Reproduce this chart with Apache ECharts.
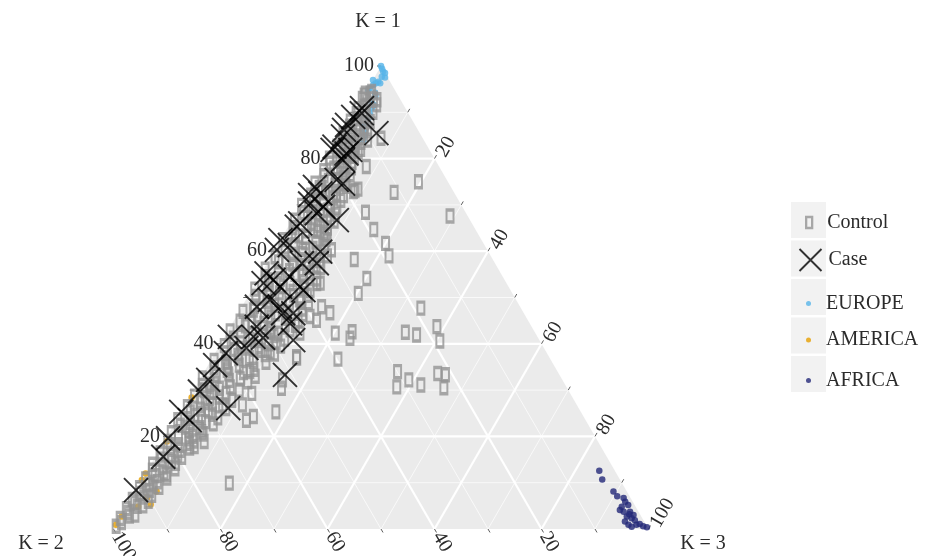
<!DOCTYPE html>
<html><head><meta charset="utf-8">
<script src="https://cdn.jsdelivr.net/npm/echarts@6/dist/echarts.min.js"></script>
<style>html,body{margin:0;padding:0;background:#fff}#c{width:926px;height:556px}</style>
</head><body><div id="c"></div>
<script>
// ---- data (ternary compositions in %, [K1, K2, K3]) ----
const axisTitles = ['K = 1', 'K = 2', 'K = 3'];
const gridTicks = [10, 20, 30, 40, 50, 60, 70, 80, 90];
const tickMarks = [10, 20, 30, 40, 50, 60, 70, 80, 90, 100];
const labelTicks = [20, 40, 60, 80, 100];
const legendNames = ['Control', 'Case', 'EUROPE', 'AMERICA', 'AFRICA'];

const controlPoints = [
 [0.6,99.2,0.2],[1.4,97.8,0.8],[2.3,97.6,0.1],[2.8,95.6,1.6],[3.6,95.5,0.9],[4.4,95.4,0.2],[4.9,93.1,2.0],[5.7,93.2,1.1],
 [6.4,93.3,0.3],[6.9,90.9,2.2],[7.7,91.1,1.2],[8.3,89.1,2.6],[8.9,90.7,0.4],[9.6,88.6,1.8],[10.2,86.7,3.1],[10.8,88.6,0.6],
 [11.5,86.5,2.0],[12.1,84.5,3.4],[12.7,86.4,0.9],[13.4,84.1,2.5],[14.0,85.7,0.3],[14.6,81.8,3.6],[15.1,83.5,1.4],[15.9,81.3,2.8],
 [16.4,83.1,0.5],[17.0,79.0,4.0],[17.6,80.6,1.8],[18.2,78.8,3.0],[18.9,80.4,0.7],[19.5,76.2,4.3],[20.1,77.8,2.1],[20.8,78.8,0.4],
 [21.3,75.2,3.5],[21.9,72.9,5.2],[22.4,76.3,1.3],[23.0,74.1,2.9],[23.6,76.2,0.2],[24.1,71.5,4.4],[24.8,69.1,6.1],[25.3,73.0,1.7],
 [25.9,70.8,3.3],[26.4,73.0,0.6],[27.0,68.0,5.0],[27.6,70.0,2.4],[28.2,67.9,3.9],[28.7,70.5,0.8],[29.3,64.3,6.4],[29.9,68.1,2.0],
 [30.4,65.0,4.6],[31.0,67.9,1.1],[31.5,65.3,3.2],[32.1,62.3,5.6],[32.6,67.1,0.3],[33.2,64.2,2.6],[33.8,58.8,7.4],[34.3,61.6,4.1],
 [34.8,63.8,1.4],[35.4,58.8,5.8],[35.9,61.1,3.0],[36.4,63.0,0.6],[37.0,56.1,6.9],[37.5,58.0,4.5],[38.0,59.9,2.1],[38.6,53.1,8.3],
 [39.1,55.4,5.5],[39.6,59.5,0.9],[40.2,56.2,3.6],[40.7,52.6,6.7],[41.2,57.0,1.8],[41.8,49.1,9.1],[42.3,52.9,4.8],[42.8,56.8,0.4],
 [43.3,49.1,7.6],[43.9,53.4,2.7],[44.4,49.7,5.9],[44.9,53.9,1.2],[45.5,44.7,9.8],[46.0,50.1,3.9],[46.5,46.5,7.0],[47.0,52.3,0.7],
 [47.6,47.2,5.2],[48.1,49.6,2.3],[48.6,42.8,8.6],[49.2,46.7,4.1],[49.7,43.7,6.6],[50.2,48.3,1.5],[50.8,45.8,3.4],[51.3,40.8,7.9],
 [51.8,47.7,0.5],[52.4,42.1,5.5],[52.9,44.4,2.7],[53.4,37.8,8.8],[54.0,41.8,4.2],[54.5,44.4,1.1],[55.0,38.6,6.4],[55.6,41.4,3.0],
 [56.1,43.6,0.3],[56.6,35.6,7.8],[57.2,37.9,4.9],[57.7,40.3,2.0],[58.2,35.8,6.0],[58.8,40.4,0.8],[59.3,37.0,3.7],[59.8,32.1,8.1],
 [60.4,34.4,5.2],[60.9,37.5,1.6],[61.4,35.6,3.0],[62.0,31.2,6.8],[62.5,37.1,0.4],[63.0,32.6,4.4],[63.6,34.2,2.2],[64.1,28.6,7.3],
 [64.6,30.3,5.1],[65.1,33.9,1.0],[65.7,30.8,3.5],[66.2,27.7,6.1],[66.7,32.8,0.5],[67.3,30.1,2.6],[67.8,27.5,4.7],[68.3,30.3,1.4],
 [68.9,25.5,5.6],[69.4,27.5,3.1],[69.9,29.9,0.2],[70.5,25.5,4.0],[71.0,27.1,1.9],[71.5,23.2,5.3],[72.1,27.1,0.8],[72.6,24.1,3.3],
 [73.1,18.3,8.6],[73.4,17.6,9.0],[73.7,24.7,1.6],[74.2,21.5,4.3],[74.7,25.0,0.3],[75.3,22.2,2.5],[75.8,19.2,5.0],[76.3,22.5,1.2],
 [76.9,19.7,3.4],[77.4,22.0,0.6],[77.9,19.9,2.2],[78.5,17.1,4.4],[79.0,20.0,1.0],[79.5,17.5,3.0],[80.1,19.6,0.3],[80.6,17.4,2.0],
 [81.1,15.1,3.8],[81.7,17.3,1.0],[82.2,15.1,2.7],[82.7,16.9,0.4],[83.3,15.0,1.7],[83.8,13.0,3.2],[84.3,14.9,0.8],[84.9,12.9,2.2],
 [85.4,14.4,0.2],[85.9,12.6,1.5],[86.5,10.7,2.8],[87.0,12.4,0.6],[87.5,10.7,1.8],[88.1,11.7,0.2],[88.6,10.1,1.3],[89.1,8.5,2.4],
 [89.7,9.8,0.5],[90.2,8.2,1.6],[90.8,8.9,0.3],[91.3,7.5,1.2],
 [80.5,14.7,4.8],[82.0,12.8,5.2],[83.5,12.0,4.5],[78.0,16.5,5.5],[76.5,17.5,6.0],
 [88.0,8.0,4.0],[86.0,9.5,4.5],[84.0,10.5,5.5],[90.0,6.5,3.5],
 [9.0,87.0,4.0],[11.0,84.5,4.5],[13.0,82.0,5.0],[15.5,79.5,5.0],[17.5,77.0,5.5],[19.0,75.5,5.5],
 [20.5,73.0,6.5],[22.7,70.0,7.3],[24.0,68.5,7.5],[26.0,66.0,8.0],[27.8,64.0,8.2],[30.0,61.5,8.5],[31.8,59.0,9.2],[33.0,57.0,10.0],
 [34.5,56.5,9.0],[36.0,53.5,10.5],[37.8,51.0,11.2],[39.5,49.0,11.5],[41.0,47.5,11.5],[43.0,45.5,11.5],[44.0,44.0,12.0],[45.0,43.0,12.0],
 [46.3,41.5,12.2],[47.5,41.0,11.5],[49.5,40.5,10.0],[51.5,37.5,11.0],[52.5,38.0,9.5],[54.0,35.0,11.0],[55.3,35.5,9.2],[56.5,33.0,10.5],
 [58.0,32.5,9.5],[59.0,30.5,10.5],[61.0,30.0,9.0],[62.5,29.0,8.5],[63.5,28.3,8.2],[65.0,27.5,7.5],[66.5,25.5,8.0],[68.0,24.5,7.5],
 [69.5,23.5,7.0],[71.0,22.0,7.0],[72.0,21.0,7.0],[74.0,19.5,6.5],
 [20.0,75.2,4.8],[21.0,73.0,6.0],[22.0,75.5,2.5],[23.2,71.2,5.6],[24.5,72.5,3.0],[25.5,69.5,5.0],[26.8,66.2,7.0],[27.3,69.2,3.5],
 [28.5,66.0,5.5],[29.5,66.5,4.0],[30.7,62.8,6.5],[31.3,66.3,2.4],[32.4,60.1,7.5],[33.5,61.7,4.8],[34.0,57.5,8.5],[35.0,61.2,3.8],
 [36.2,55.8,8.0],[36.8,58.2,5.0],[37.7,52.8,9.5],[38.8,58.0,3.2],[39.4,53.1,7.5],[40.0,51.0,9.0],[40.9,54.1,5.0],[41.6,55.4,3.0],
 [42.5,49.3,8.2],[43.5,50.5,6.0],[44.2,45.8,10.0],[44.7,51.8,3.5],[45.8,47.7,6.5],[46.8,44.2,9.0],[47.3,50.2,2.5],[48.3,45.7,6.0],
 [49.0,40.5,10.5],[49.9,47.1,3.0],[50.4,41.1,8.5],[51.0,43.5,5.5],[52.0,38.5,9.5],[53.0,40.5,6.5],[53.8,44.2,2.0],[54.8,37.2,8.0],
 [55.8,39.2,5.0],[56.8,33.7,9.5],[57.5,39.0,3.5],[58.5,33.5,8.0],[59.5,35.0,5.5],[60.6,32.4,7.0],[61.8,33.2,5.0],[62.8,29.2,8.0],
 [63.3,33.7,3.0],[64.3,29.7,6.0],[65.5,29.0,5.5],[66.0,30.0,4.0],[67.0,26.0,7.0],[68.5,28.5,3.0],[69.2,24.8,6.0],[70.2,24.3,5.5],
 [71.3,25.2,3.5],[72.3,22.2,5.5],[73.0,24.5,2.5],[74.5,19.5,6.0],[75.5,20.7,3.8],[76.7,18.3,5.0],[77.7,18.3,4.0],[79.2,15.8,5.0],
 [80.8,16.2,3.0],[81.5,13.5,5.0],[82.5,13.5,4.0],[83.0,14.5,2.5],[84.5,12.0,3.5],[85.5,10.5,4.0],[86.8,9.7,3.5],[87.8,9.2,3.0],
 [89.5,8.0,2.5],[3.0,94.5,2.5],[5.0,92.0,3.0],[6.0,90.5,3.5],[7.3,89.2,3.5],[9.3,87.9,2.8],[11.8,84.2,4.0],[14.2,81.3,4.5],
 [16.0,80.0,4.0],[18.5,76.5,5.0],
 [38.2,51.6,10.2],[40.2,49.5,10.3],[42.3,48.1,9.6],[50.5,38.5,11.0],[48.9,39.1,12.0],[53.0,35.5,11.5],[60.3,29.1,10.6],[53.1,34.8,12.1],
 [92.7,4.4,2.9],[94.1,5.0,0.9],[93.7,6.3,0.0],[94.1,5.9,0.0],[94.5,4.5,1.0],[93.0,4.9,2.1],[92.7,6.3,1.0],[93.0,7.0,0.0],[91.6,5.0,3.4],
 [75.0,5.5,19.5],[72.7,11.2,16.1],[67.6,3.3,29.1],[68.4,18.7,12.9],[64.7,19.0,16.3],[61.7,18.3,20.0],[59.0,19.0,22.0],[58.2,25.9,15.9],
 [54.1,25.6,20.3],[50.9,28.8,20.3],[47.7,18.7,33.6],[43.7,17.7,38.6],[40.6,18.7,40.7],[42.5,24.2,33.3],[41.9,22.4,35.7],[42.6,34.1,23.3],
 [41.2,35.2,23.6],[42.3,37.4,20.3],[36.7,39.7,23.6],[36.9,47.3,15.8],[34.0,29.9,36.1],[30.7,31.7,37.6],[32.2,28.7,39.1],[31.1,27.0,41.9],
 [33.6,22.6,43.8],[33.3,21.3,45.4],[30.5,23.0,46.5],[72.9,18.7,8.4],[84.4,7.8,7.8],[78.3,13.6,8.1],
 [9.9,73.4,16.7],[18.9,73.6,7.5],[17.8,76.0,6.2],[23.5,63.4,13.1],[24.3,61.7,14.0],[25.3,57.0,17.7],[29.3,59.5,11.2],[26.8,62.5,10.7],
 [30.4,53.4,16.2],[32.2,52.3,15.5],[42.3,44.0,13.7],[46.7,36.2,17.1],[45.1,39.5,15.4],[48.0,37.1,14.9],[45.9,40.3,13.8],[37.2,47.2,15.6]
];

const casePoints = [
 [90.9,8.1,1.0],[85.5,8.1,6.4],[89.0,10.7,0.3],[86.2,13.8,0.0],[84.8,14.7,0.5],[82.6,17.4,0.0],[81.9,14.8,3.3],[81.1,15.9,3.0],
 [79.7,17.3,3.0],[81.9,18.1,0.0],[75.4,20.6,4.0],[73.9,25.4,0.7],[72.1,27.2,0.7],[69.6,26.0,4.4],[66.7,24.9,8.4],[68.2,27.9,3.9],
 [66.0,32.1,1.9],[59.9,31.4,8.7],[57.4,33.3,9.3],[57.4,36.1,6.5],[61.3,36.4,2.3],[60.3,39.3,0.4],[55.2,43.8,1.0],[52.3,42.7,5.0],
 [49.5,46.0,4.5],[48.0,49.2,2.8],[46.6,43.1,10.3],[52.3,39.0,8.7],[46.6,45.0,8.4],[33.3,51.3,15.4],[40.8,46.0,13.2],[41.3,51.4,7.3],
 [39.1,55.6,5.3],[38.0,60.0,2.0],[32.2,66.2,1.6],[29.7,69.0,1.3],[26.1,65.5,8.4],[25.3,74.7,0.0],[19.6,80.0,0.4],[15.6,82.9,1.5],
 [8.4,91.6,0.0],[74.6,19.8,5.6],[72.5,25.1,2.4],[70.3,28.1,1.6],[65.3,33.1,1.6],[62.4,37.6,0.0],[54.5,39.8,5.7],[53.8,43.2,3.0],
 [53.1,45.4,1.5],[51.6,38.7,9.7],[48.0,44.9,7.1],[44.4,44.8,10.8],[43.7,51.4,4.9],[41.5,53.1,5.4],[41.5,57.5,1.0],[35.4,63.3,1.3],
 [23.5,74.0,2.5],[89.8,8.7,1.5],[87.3,12.7,0.0]
];

const europePoints = [
 [100,0,0],[98.8,0.2,1.0],[97.7,1.0,1.3],[96.6,2.2,1.2],[96.3,2.8,0.9],[95.9,3.5,0.6],[95.2,4.5,0.3],[96.3,2.0,1.7],
 [90.9,6.3,2.8],[89.8,7.2,3.0],[88.7,8.0,3.3],[87.3,9.3,3.4],[84.0,11.3,4.7],[94.2,4.0,1.8],[92.0,5.7,2.3],[99.4,0.1,0.5],
 [98.5,0.0,1.5],[97.0,3.0,0.0],[94.8,5.0,0.2],[91.5,5.5,3.0],[86.0,10.0,4.0],[85.0,10.6,4.4],[93.5,4.3,2.2],[97.5,0.5,2.0]
];

const americaPoints = [
 [8.1,87.9,4.0],[5.3,90.4,4.3],[6.8,90.3,2.9],[4.8,93.0,2.2],[10.6,89.4,0.0],[12.0,88.0,0.0],[2.7,97.1,0.2],[28.4,71.2,0.4],
 [18.9,80.6,0.5],[0.9,99.1,0.0]
];

const africaPoints = [
 [12.6,2.9,84.5],[10.7,3.3,86.0],[8.1,2.5,89.4],[7.1,2.3,90.6],[5.9,1.4,92.7],[4.8,2.6,92.6],[5.2,1.2,93.6],[3.7,2.8,93.5],
 [3.7,1.6,94.7],[2.7,2.7,94.6],[2.3,2.0,95.7],[1.9,1.6,96.5],[0.9,3.3,95.8],[0.9,1.8,97.3],[0.6,0.7,98.7],[0.4,0.1,99.5],
 [0.5,2.9,96.6],[1.6,3.6,94.8],[4.1,3.3,92.6],[3.0,1.3,95.7],[1.1,1.1,97.8],[3.2,2.0,94.8],[6.7,1.3,92.0]
];

// ---- helpers ----
const FONT = 'Liberation Serif';
const TXT = '#2b2b2b';
function toXY(p) { const s = p[0] + p[1] + p[2]; return [(p[2] + p[0] / 2) / s * 100, p[0] / s * 100]; }
const D = Math.PI / 3;

const chart = echarts.init(document.getElementById('c'));

function bgItem(params, api) {
  const pts = [[100, 0, 0], [0, 100, 0], [0, 0, 100]].map(v => api.coord(toXY(v)));
  return { type: 'polygon', shape: { points: pts }, style: { fill: '#EBEBEB' } };
}
function gridItem(params, api) {
  const t = api.value(0);
  const lw = (t % 20 === 0) ? 2.2 : 0.7;
  const segs = [
    [[t, 100 - t, 0], [t, 0, 100 - t]],
    [[0, 100 - t, t], [100 - t, 0, t]],
    [[0, t, 100 - t], [100 - t, t, 0]]
  ];
  return { type: 'group', children: segs.map(s => {
    const a = api.coord(toXY(s[0])), b = api.coord(toXY(s[1]));
    return { type: 'line', shape: { x1: a[0], y1: a[1], x2: b[0], y2: b[1] }, style: { stroke: '#fff', lineWidth: lw } };
  }) };
}
function tickItem(params, api) {
  const t = api.value(0), L = 4;
  const pL = api.coord(toXY([t, 100 - t, 0]));
  const pR = api.coord(toXY([100 - t, 0, t]));
  const pB = api.coord(toXY([0, t, 100 - t]));
  const st = { stroke: '#333', lineWidth: 0.8 };
  return { type: 'group', children: [
    { type: 'line', shape: { x1: pL[0], y1: pL[1], x2: pL[0] - L, y2: pL[1] }, style: st },
    { type: 'line', shape: { x1: pR[0], y1: pR[1], x2: pR[0] + L * 0.5, y2: pR[1] - L * 0.866 }, style: st },
    { type: 'line', shape: { x1: pB[0], y1: pB[1], x2: pB[0] + L * 0.5, y2: pB[1] + L * 0.866 }, style: st }
  ] };
}
function labelItem(params, api) {
  const t = api.value(0);
  const txt = String(t);
  const pL = api.coord(toXY([t, 100 - t, 0]));
  const pR = api.coord(toXY([100 - t, 0, t]));
  const pB = api.coord(toXY([0, t, 100 - t]));
  const font = '20px "' + FONT + '"';
  return { type: 'group', children: [
    { type: 'text', x: pL[0] - 7, y: pL[1], style: { text: txt, font: font, fill: TXT, align: 'right', verticalAlign: 'middle' } },
    { type: 'text', x: pR[0] + 6.5, y: pR[1] - 3, rotation: D, style: { text: txt, font: font, fill: TXT, align: 'left', verticalAlign: 'middle' } },
    { type: 'text', x: pB[0] + 2.5, y: pB[1] + 4.3, rotation: -D, style: { text: txt, font: font, fill: TXT, align: 'left', verticalAlign: 'middle' } }
  ] };
}

const legendText = { fontFamily: FONT, fontSize: 20, color: TXT };
const boxTops = [202, 240.5, 279, 317.5, 356];

const option = {
  animation: false,
  backgroundColor: '#fff',
  grid: { left: 113.5, top: 66, width: 535, height: 463, show: false },
  xAxis: { type: 'value', min: 0, max: 100, show: false },
  yAxis: { type: 'value', min: 0, max: 100, show: false },
  legend: [
    { data: [{ name: legendNames[0], icon: 'rect', itemStyle: { color: 'rgba(0,0,0,0)', borderColor: '#949494', borderWidth: 2.3 } }],
      left: 805, top: boxTops[0] + 16 - 5.5, itemWidth: 6, itemHeight: 11, padding: 0, selectedMode: false,
      textStyle: Object.assign({ padding: [0, 0, 0, 10] }, legendText) },
    { data: [{ name: legendNames[1], icon: 'path://M0,0L10,10M10,0L0,10', itemStyle: { color: 'none', borderColor: '#000', borderWidth: 1.9 } }],
      left: 797, top: boxTops[1] + 17 - 11, itemWidth: 22, itemHeight: 22, padding: 0, selectedMode: false,
      textStyle: Object.assign({ padding: [0, 0, 0, 2] }, legendText) },
    { data: [{ name: legendNames[2], icon: 'circle', itemStyle: { color: '#56B4E9' } }],
      left: 806, top: boxTops[2] + 17 - 2.5, itemWidth: 5, itemHeight: 5, padding: 0, selectedMode: false,
      textStyle: Object.assign({ padding: [0, 0, 0, 10] }, legendText) },
    { data: [{ name: legendNames[3], icon: 'circle', itemStyle: { color: '#E69F00' } }],
      left: 806, top: boxTops[3] + 15 - 2.5, itemWidth: 5, itemHeight: 5, padding: 0, selectedMode: false,
      textStyle: Object.assign({ padding: [0, 0, 0, 10] }, legendText) },
    { data: [{ name: legendNames[4], icon: 'circle', itemStyle: { color: '#232878' } }],
      left: 806, top: boxTops[4] + 17 - 2.5, itemWidth: 5, itemHeight: 5, padding: 0, selectedMode: false,
      textStyle: Object.assign({ padding: [0, 0, 0, 10] }, legendText) }
  ],
  graphic: [
    ...boxTops.map(t => ({ type: 'rect', left: 791, top: t, shape: { width: 35, height: 36 }, style: { fill: '#F2F2F2' }, z: 0, silent: true })),
    { type: 'text', style: { text: axisTitles[0], font: '20px "' + FONT + '"', fill: TXT, x: 378, y: 22, align: 'center', verticalAlign: 'middle' }, z: 5 },
    { type: 'text', style: { text: axisTitles[1], font: '20px "' + FONT + '"', fill: TXT, x: 41, y: 544, align: 'center', verticalAlign: 'middle' }, z: 5 },
    { type: 'text', style: { text: axisTitles[2], font: '20px "' + FONT + '"', fill: TXT, x: 703, y: 544, align: 'center', verticalAlign: 'middle' }, z: 5 }
  ],
  series: [
    { type: 'custom', name: 'bg', silent: true, renderItem: bgItem, data: [[0]], clip: false },
    { type: 'custom', name: 'grid', silent: true, renderItem: gridItem, data: gridTicks.map(t => [t]), clip: false },
    { type: 'custom', name: 'ticks', silent: true, renderItem: tickItem, data: tickMarks.map(t => [t]), clip: false },
    { type: 'custom', name: 'labels', silent: true, renderItem: labelItem, data: labelTicks.map(t => [t]), clip: false },
    { type: 'scatter', name: 'EUROPE', data: europePoints.map(toXY), symbol: 'circle', symbolSize: 6.5, itemStyle: { color: '#56B4E9' }, clip: false },
    { type: 'scatter', name: 'AMERICA', data: americaPoints.map(toXY), symbol: 'circle', symbolSize: 6.5, itemStyle: { color: '#E69F00' }, clip: false },
    { type: 'scatter', name: 'AFRICA', data: africaPoints.map(toXY), symbol: 'circle', symbolSize: 6.5, itemStyle: { color: '#232878' }, clip: false },
    { type: 'scatter', name: 'Control', data: controlPoints.map(toXY), symbol: 'rect', symbolSize: [7, 12],
      itemStyle: { color: 'rgba(0,0,0,0)', borderColor: '#949494', borderWidth: 2.6 }, clip: false },
    { type: 'scatter', name: 'Case', data: casePoints.map(toXY), symbol: 'path://M0,0L10,10M10,0L0,10', symbolSize: 24,
      itemStyle: { color: 'none', borderColor: '#000', borderWidth: 1.9 }, clip: false }
  ]
};
chart.setOption(option);
</script></body></html>
